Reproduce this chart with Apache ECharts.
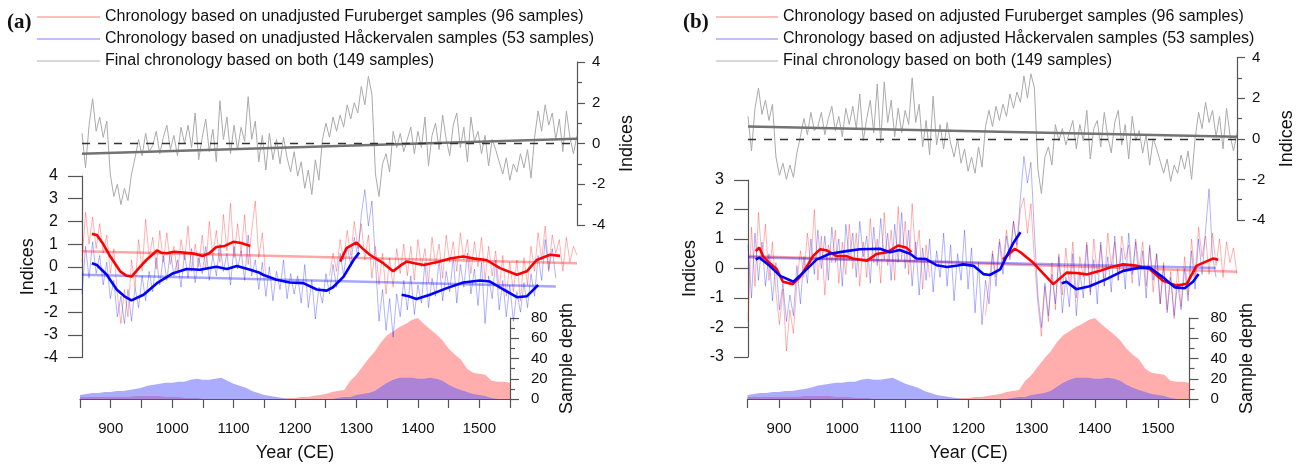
<!DOCTYPE html>
<html><head><meta charset="utf-8">
<script src="https://cdn.jsdelivr.net/npm/echarts@6.0.0/dist/echarts.min.js"></script>
<style>html,body{margin:0;padding:0;background:#fff}#c{width:1316px;height:473px}</style>
</head><body><div id="c"></div><script>
// ---------- DATA ----------
const NAME_RA = 'Chronology based on unadjusted Furuberget samples (96 samples)';
const NAME_BA = 'Chronology based on unadjusted H\u00e5ckervalen samples (53 samples)';
const NAME_RB = 'Chronology based on adjusted Furuberget samples (96 samples)';
const NAME_BB = 'Chronology based on adjusted H\u00e5ckervalen samples (53 samples)';
const NAME_G = 'Final chronology based on both (149 samples)';

const yearStart = 850, yearEnd = 1550, yearStep = 5, depthStep = 10;
const xTickLabels = [900, 1000, 1100, 1200, 1300, 1400, 1500];

// final chronology, panel a (850..1550 every 5 yr)
const grayA = [
 0.5,-1.2,0.9,2.2,0.6,1.3,0.3,1.1,-1.5,-2.6,
 -2.0,-3.0,-2.2,-2.8,-1.5,-0.7,0.2,-0.6,0.5,-0.4,
 -0.1,0.6,-0.5,0.3,0.9,-0.3,0.4,-0.6,0.8,0.0,
 0.9,-0.2,1.5,-0.8,0.3,1.2,-0.4,0.7,-0.9,2.1,
 0.2,1.3,-0.5,0.9,-0.3,0.8,0.1,2.3,0.2,1.1,
 -0.9,0.4,-1.3,0.5,-0.8,0.2,-1.0,0.3,-0.7,-1.4,
 -0.4,-1.6,-0.9,-2.2,-1.3,-2.5,-0.8,-1.8,0.2,1.0,
 0.3,1.3,0.6,1.4,0.8,1.9,1.2,2.0,1.5,2.8,
 1.9,3.3,2.4,-1.5,-2.6,-1.0,-0.5,-1.4,0.6,-0.2,
 0.5,-0.4,0.2,0.8,-0.5,0.6,-0.2,1.3,-1.1,0.4,
 1.0,-0.3,1.4,0.2,-0.6,0.9,1.5,-0.2,0.8,-0.9,
 1.3,0.1,0.6,-0.5,0.4,-1.1,0.2,-0.3,-0.9,-1.5,
 -0.7,-1.8,-1.0,-1.4,-0.5,-1.2,-0.3,-1.7,0.3,1.6,
 0.6,1.9,0.9,1.5,0.2,1.2,-0.4,1.6,0.3,-0.5,
 0.4];
// final chronology, panel b
const grayB = [
 1.1,-0.6,1.5,2.5,1.2,1.9,0.9,1.7,-0.9,-1.8,
 -1.2,-2.0,-1.3,-1.9,-0.7,0.1,1.0,0.2,1.3,0.4,
 0.6,1.3,0.2,1.0,1.6,0.4,1.1,0.1,1.5,0.7,
 1.6,0.5,2.2,-0.1,1.0,1.9,0.3,2.7,-0.2,2.8,
 0.8,1.9,0.1,1.5,0.3,1.4,0.7,3.0,0.8,1.7,
 -0.4,0.9,-0.8,2.1,-0.3,0.7,-0.5,0.8,-0.2,-0.9,
 0.0,-1.2,-0.5,-1.6,-0.9,-1.7,-0.4,-1.4,0.6,1.4,
 0.6,1.6,0.9,1.7,1.1,2.2,1.5,2.3,1.8,3.1,
 2.0,3.2,2.5,-1.5,-2.7,-0.9,-0.4,-1.3,0.7,-0.1,
 0.5,-0.3,0.3,0.9,-0.5,0.7,-0.1,1.4,-1.0,0.5,
 0.9,-0.4,1.3,0.1,-0.7,0.8,1.4,-0.3,0.7,-1.0,
 1.1,-0.1,0.4,-0.7,0.2,-1.3,0.0,-0.5,-1.1,-1.7,
 -1.0,-2.1,-1.3,-1.7,-0.8,-1.5,-0.6,-2.0,0.0,1.3,
 0.5,1.8,0.8,1.4,0.1,1.1,-0.5,1.5,0.2,-0.6,
 0.3];
const redA = [
 0.2,2.4,1.0,2.2,0.8,1.9,0.6,1.4,-0.3,0.8,
 -1.2,-2.5,-1.0,-2.2,0.3,-0.9,1.2,-0.2,2.1,0.4,
 1.3,-0.1,1.6,0.2,1.5,0.1,0.9,-0.3,1.2,0.3,
 1.8,-0.2,1.0,0.0,1.4,-0.1,2.0,0.5,1.6,0.2,
 2.3,0.7,2.8,0.4,1.9,0.6,2.3,0.1,1.6,2.9,
 0.4,1.5,-0.5,null,null,null,null,null,null,null,
 null,null,null,null,null,null,null,null,null,null,
 -0.4,0.6,-0.2,1.2,0.3,1.6,0.5,2.0,0.8,1.9,
 0.3,1.4,-0.5,0.9,-0.8,0.6,-1.2,0.4,-0.9,0.8,
 -0.3,1.0,-0.4,0.9,-0.6,1.2,0.0,0.8,-0.7,1.3,
 0.1,1.0,-0.5,1.4,0.2,1.1,-0.2,1.5,0.3,1.2,
 -0.3,1.1,0.0,1.3,-0.6,0.9,-0.4,0.7,-1.0,0.5,
 -1.3,0.2,-1.1,0.3,-1.5,0.4,-0.8,0.9,-0.2,1.5,
 0.3,1.8,-0.1,1.4,0.6,1.2,-0.2,1.3,0.2,0.9,
 0.5];
const blueA = [
 -1.2,0.9,-0.5,1.1,-0.3,0.5,-0.8,0.2,-1.4,-0.6,
 -2.2,-1.3,-2.5,-1.0,-2.4,-0.9,-1.8,-0.4,-1.5,-0.2,
 -1.1,0.4,-0.8,0.5,-0.6,0.7,-0.4,0.3,-0.9,0.6,
 -0.5,0.8,-0.7,0.4,-0.3,0.9,-0.6,0.5,-0.4,1.0,
 -0.2,0.6,-0.8,0.9,-0.1,0.7,-0.6,1.4,-0.4,0.3,
 -1.0,0.2,-1.3,0.0,-1.5,-0.2,-1.0,0.3,-1.4,-0.3,
 -1.2,-0.4,-1.6,0.1,-1.8,-0.6,-2.3,-0.9,-1.6,-0.3,
 -1.2,0.1,-0.9,0.6,-0.4,0.9,0.1,1.3,0.4,2.3,
 3.4,1.8,2.9,0.2,-2.4,-1.0,-2.8,-1.4,-3.1,-1.2,
 -2.2,-0.6,-1.9,-0.4,-2.1,-0.8,-1.6,0.2,-1.8,-0.5,
 -1.3,0.3,-1.5,-0.2,-1.1,0.4,-1.6,0.1,-0.9,0.6,
 -1.2,-0.1,-1.7,0.2,-2.5,-0.4,-1.4,0.3,-1.9,-0.6,
 -2.2,-0.8,-2.4,-1.1,-2.0,-0.7,-1.8,-0.3,-1.3,0.5,
 -0.6,1.2,-0.2,0.8,-0.5,null,null,null,null,null,
 null];
const redB = [
 -1.8,1.4,-0.6,1.9,0.3,1.5,-0.4,0.9,-0.8,-1.9,
 -0.7,-2.8,-1.4,-2.2,-0.5,0.6,-0.3,1.2,0.1,2.0,
 -0.4,1.1,-0.9,0.8,0.2,1.3,-0.5,0.9,-0.2,1.5,
 0.0,1.2,-0.6,0.9,-0.3,1.7,0.2,1.0,-0.5,1.9,
 0.1,1.3,-0.4,2.1,0.3,1.6,-0.2,2.2,0.4,1.3,
 -0.7,0.8,-0.3,null,null,null,null,null,null,null,
 null,null,null,null,null,null,null,null,-1.6,-0.5,
 0.6,-0.3,1.0,0.2,1.3,0.4,1.6,0.7,2.0,2.4,
 1.2,2.2,0.3,-1.2,-2.3,-0.6,-1.8,0.2,-1.4,0.5,
 -0.9,0.7,-0.6,0.9,-1.0,0.4,-0.3,0.9,-0.8,1.0,
 -0.2,0.8,-0.6,1.2,0.1,0.9,-0.4,1.1,0.3,0.8,
 -0.5,1.0,0.0,0.9,-0.6,0.7,-0.8,0.5,-1.2,0.2,
 -1.4,-0.1,-1.7,0.0,-1.3,0.4,-0.9,1.0,-0.3,1.4,
 0.4,1.1,-0.2,1.2,0.1,1.0,-0.3,0.9,0.2,0.7,
 -0.2];
const blueB = [
 0.8,-1.0,1.2,-0.4,0.9,-0.6,0.5,-1.1,0.2,-1.4,
 -0.5,-1.8,-0.9,-1.6,0.1,-1.2,0.4,-0.5,1.0,-0.2,
 1.3,0.0,1.1,-0.4,1.4,0.2,1.0,-0.6,1.5,0.3,
 1.2,-0.3,1.6,0.4,1.1,-0.5,1.4,0.1,1.7,0.3,
 1.2,-0.4,1.5,0.2,1.9,0.0,1.3,-0.6,0.9,-0.9,
 0.7,-0.4,1.0,-0.8,0.6,-0.3,1.2,-0.6,0.8,-1.1,
 0.5,-0.4,1.3,-0.7,0.7,-1.5,0.2,-1.9,-0.4,-1.2,
 0.5,-0.6,0.9,-0.2,1.1,0.3,1.6,0.8,2.4,3.8,
 2.9,3.6,1.2,-0.9,-2.0,-0.5,-1.6,-0.2,-1.2,0.4,
 -1.5,-0.3,-1.3,0.5,-1.6,-0.1,-1.0,0.8,-0.9,0.3,
 -1.2,0.9,-0.6,0.4,-0.8,1.1,-0.4,0.7,-0.7,1.2,
 -0.2,0.9,-0.6,0.6,-1.0,0.8,-0.4,0.5,-1.2,0.1,
 -1.5,-0.3,-1.6,-0.5,-1.4,0.0,-1.1,0.6,-0.7,1.0,
 -0.2,1.3,2.7,0.4,-0.3,null,null,null,null,null,
 null];

// smoothed (31-yr) curves, [year, index]
const redSmoothA1 = [[864,1.45],[871,1.4],[880,1.0],[890,0.45],[904,-0.2],[912,-0.38],[920,-0.43],[932,0.0],[941,0.3],[956,0.72],[962,0.62],[970,0.6],[980,0.66],[993,0.63],[1008,0.58],[1021,0.48],[1030,0.6],[1040,0.87],[1052,0.92],[1064,1.1],[1075,1.05],[1088,0.92]];
const redSmoothA2 = [[1215,0.23],[1224,0.82],[1238,1.07],[1247,0.8],[1257,0.53],[1276,0.16],[1290,-0.2],[1300,0.05],[1309,0.23],[1320,0.16],[1333,0.08],[1356,0.23],[1372,0.38],[1389,0.45],[1405,0.36],[1422,0.3],[1441,-0.06],[1465,-0.35],[1479,-0.2],[1493,0.3],[1512,0.53],[1526,0.48]];
const blueSmoothA1 = [[864,0.16],[871,0.08],[885,-0.35],[899,-1.0],[910,-1.3],[920,-1.48],[937,-1.23],[956,-0.72],[979,-0.28],[998,-0.1],[1017,-0.13],[1030,-0.05],[1040,0.0],[1055,-0.1],[1069,0.04],[1088,-0.13],[1100,-0.25],[1106,-0.35],[1125,-0.57],[1144,-0.69],[1163,-0.72],[1182,-1.0],[1196,-1.05],[1205,-0.9],[1220,-0.43],[1234,0.3],[1242,0.63]];
const blueSmoothA2 = [[1302,-1.23],[1312,-1.3],[1323,-1.42],[1342,-1.23],[1366,-0.94],[1389,-0.69],[1413,-0.6],[1427,-0.65],[1446,-1.0],[1465,-1.34],[1479,-1.3],[1495,-0.8]];
const redSmoothB1 = [[861,0.59],[866,0.71],[872,0.4],[880,0.2],[891,-0.02],[900,-0.45],[914,-0.53],[924,-0.3],[936,0.14],[943,0.42],[953,0.65],[962,0.62],[977,0.42],[991,0.42],[1000,0.34],[1020,0.26],[1034,0.49],[1049,0.55],[1065,0.78],[1077,0.7],[1084,0.55]];
const redSmoothB2 = [[1215,0.31],[1232,0.67],[1240,0.55],[1258,0.2],[1287,-0.53],[1306,-0.14],[1320,-0.15],[1335,-0.2],[1354,-0.08],[1370,0.05],[1387,0.14],[1405,0.1],[1425,-0.02],[1444,-0.42],[1464,-0.58],[1478,-0.52],[1492,0.09],[1507,0.25],[1516,0.34],[1523,0.3]];
const blueSmoothB1 = [[861,0.3],[866,0.37],[881,0.09],[896,-0.25],[915,-0.45],[929,-0.14],[948,0.3],[967,0.5],[991,0.59],[1010,0.65],[1039,0.67],[1053,0.55],[1067,0.63],[1082,0.5],[1091,0.34],[1105,0.32],[1120,0.11],[1135,0.05],[1150,0.1],[1158,0.14],[1173,0.09],[1187,-0.19],[1196,-0.22],[1211,-0.03],[1218,0.31],[1230,0.87],[1240,1.23]];
const blueSmoothB2 = [[1299,-0.5],[1306,-0.45],[1320,-0.7],[1339,-0.6],[1363,-0.36],[1387,-0.08],[1411,0.03],[1425,0.03],[1444,-0.3],[1461,-0.64],[1475,-0.67],[1487,-0.45],[1495,-0.19]];

// linear trends
const grayTrendA = [[850,-0.5],[1550,0.23]];
const grayTrendB = [[850,0.6],[1550,0.1]];
const redTrendA = [[850,0.68],[1550,0.16]];
const blueTrendA = [[850,-0.35],[1520,-0.87]];
const redTrendB = [[850,0.42],[1550,-0.11]];
const blueTrendB = [[850,0.38],[1520,0.02]];

// sample depth (850..1550 every 10 yr)
const redDepth = [
 2,2,2,2,2,2,2,2,2,3,
 3,3,3,3,2,2,2,1,1,1,
 0,0,0,0,0,0,0,0,0,0,
 0,0,0,0,1,1,2,2,3,4,
 5,7,8,9,18,24,32,40,47,56,
 63,67,71,74,78,80,74,69,64,58,
 50,44,39,30,26,25,24,18,17,17,
 16];
const blueDepth = [
 4,5,6,6,7,7,8,8,9,10,
 11,13,14,15,16,16,17,17,19,20,
 19,19,20,21,18,15,13,11,8,6,
 4,3,2,1,0,0,0,0,0,0,
 0,0,1,2,2,4,5,6,8,12,
 16,19,21,21,21,20,20,21,20,18,
 14,11,9,7,5,4,3,1,0,0,
 0];

// ---------- BUILD ----------
const FONT = 'Liberation Sans, Arial, sans-serif';
function annual(vals, step){ return vals.map((v,i)=>[yearStart+i*step, v===null?'-':v]); }

const AX = {color:'#555', width:1.2};
function hiddenX(g){ return {type:'value', gridIndex:g, min:yearStart, max:yearEnd, show:false}; }
function shownX(g){
  return {type:'value', gridIndex:g, min:yearStart, max:yearEnd, interval:50,
    axisLine:{show:true, lineStyle:AX}, axisTick:{show:true, length:9, lineStyle:AX},
    axisLabel:{fontSize:15, color:'#111', margin:22, fontFamily:FONT,
      formatter:v=> xTickLabels.indexOf(v)>=0 ? String(v) : ''},
    splitLine:{show:false},
    name:'Year (CE)', nameLocation:'middle', nameGap:45,
    nameTextStyle:{fontSize:18, color:'#111', fontFamily:FONT}};
}
function yAx(g, pos, min, max, interval, name, gap, minor, tickLen, labelSize, margin){
  return {type:'value', gridIndex:g, position:pos, min:min, max:max, interval:interval,
    axisLine:{show:true, lineStyle:AX}, axisTick:{show:true, length:tickLen, lineStyle:AX},
    minorTick:{show:minor, splitNumber:2, length:5, lineStyle:AX},
    axisLabel:{fontSize:labelSize, color:'#111', margin:margin, fontFamily:FONT},
    splitLine:{show:false},
    name:name, nameLocation:'middle', nameRotate:90, nameGap:gap,
    nameTextStyle:{fontSize:18, color:'#111', fontFamily:FONT}};
}
function line(name, xi, data, color, width, extra){
  return Object.assign({type:'line', name:name, xAxisIndex:xi, yAxisIndex:xi, data:data,
    symbol:'none', showSymbol:false, silent:true, connectNulls:false,
    lineStyle:{color:color, width:width}, itemStyle:{color:color}}, extra||{});
}
function area(name, xi, data, color){
  return {type:'line', name:name, xAxisIndex:xi, yAxisIndex:xi, data:data, symbol:'none', silent:true,
    lineStyle:{width:0}, areaStyle:{color:color, opacity:1}, itemStyle:{color:color}};
}
const dashZero = {silent:true, symbol:'none', label:{show:false},
  lineStyle:{type:[8,8], color:'#333', width:1.4}, data:[{yAxis:0}]};

const RN = 'rgba(255,0,0,0.3)', BN = 'rgba(0,0,255,0.3)';
const RT = 'rgba(255,0,0,0.35)', BT = 'rgba(0,0,255,0.35)';
const RD = 'rgba(255,60,60,0.42)', BD = 'rgba(90,90,255,0.5)';

const legendCommon = {top:8, orient:'vertical', padding:0, itemHeight:1.5, itemGap:4, icon:'rect', selectedMode:false,
  textStyle:{fontSize:16, lineHeight:18, color:'#111', fontFamily:FONT}};

const option = {
  animation:false,
  textStyle:{fontFamily:FONT},
  title:[
    {text:'(a)', left:7, top:12, padding:0, textStyle:{fontFamily:'Liberation Serif, Times New Roman, serif', fontWeight:'bold', fontSize:21, color:'#111'}},
    {text:'(b)', left:683, top:12, padding:0, textStyle:{fontFamily:'Liberation Serif, Times New Roman, serif', fontWeight:'bold', fontSize:21, color:'#111'}}
  ],
  legend:[
    Object.assign({left:37, itemWidth:63,
     data:[{name:NAME_RA, itemStyle:{color:'#ffaaaa'}},{name:NAME_BA, itemStyle:{color:'#aaaaff'}},{name:NAME_G, itemStyle:{color:'#cccccc'}}]}, legendCommon),
    Object.assign({left:716, itemWidth:62,
     data:[{name:NAME_RB, itemStyle:{color:'#ffaaaa'}},{name:NAME_BB, itemStyle:{color:'#aaaaff'}},{name:NAME_G, itemStyle:{color:'#cccccc'}}]}, legendCommon)
  ],
  grid:[
    {left:82, top:62, width:495, height:163},
    {left:82, top:176, width:495, height:181.6},
    {left:80, top:318, width:430, height:81},
    {left:748, top:57.5, width:489, height:162.5},
    {left:748, top:180, width:489, height:177},
    {left:747.5, top:318, width:442, height:81}
  ],
  xAxis:[hiddenX(0), hiddenX(1), shownX(2), hiddenX(3), hiddenX(4), shownX(5)],
  yAxis:[
    yAx(0,'right',-4,4,2,'Indices',41,true,8,15,15),
    yAx(1,'left',-4,4,1,'Indices',45,false,14,16,24),
    yAx(2,'right',0,80,20,'Sample depth',48,true,9,15,21),
    yAx(3,'right',-4,4,2,'Indices',41,true,8,15,15),
    yAx(4,'left',-3,3,1,'Indices',49,false,14,16,24),
    yAx(5,'right',0,80,20,'Sample depth',49,true,9,15,21)
  ],
  series:[
    // panel a
    line(NAME_G, 0, annual(grayA, yearStep), '#aaaaaa', 1, {markLine:dashZero}),
    line('trendGA', 0, grayTrendA, '#737373', 2.5),
    line(NAME_RA, 1, annual(redA, yearStep), RN, 1),
    line(NAME_BA, 1, annual(blueA, yearStep), BN, 1),
    line('trendRA', 1, redTrendA, RT, 2.5),
    line('trendBA', 1, blueTrendA, BT, 2.5),
    line('smRA1', 1, redSmoothA1, '#ff0000', 2.6),
    line('smRA2', 1, redSmoothA2, '#ff0000', 2.6),
    line('smBA1', 1, blueSmoothA1, '#0000ff', 2.6),
    line('smBA2', 1, blueSmoothA2, '#0000ff', 2.6),
    area('depthRA', 2, annual(redDepth, depthStep), RD),
    area('depthBA', 2, annual(blueDepth, depthStep), BD),
    // panel b
    line(NAME_G, 3, annual(grayB, yearStep), '#aaaaaa', 1, {markLine:dashZero}),
    line('trendGB', 3, grayTrendB, '#737373', 2.5),
    line(NAME_RB, 4, annual(redB, yearStep), RN, 1, {clip:false}),
    line(NAME_BB, 4, annual(blueB, yearStep), BN, 1, {clip:false}),
    line('trendRB', 4, redTrendB, RT, 2.5),
    line('trendBB', 4, blueTrendB, BT, 2.5),
    line('smRB1', 4, redSmoothB1, '#ff0000', 2.6),
    line('smRB2', 4, redSmoothB2, '#ff0000', 2.6),
    line('smBB1', 4, blueSmoothB1, '#0000ff', 2.6),
    line('smBB2', 4, blueSmoothB2, '#0000ff', 2.6),
    area('depthRB', 5, annual(redDepth, depthStep), RD),
    area('depthBB', 5, annual(blueDepth, depthStep), BD)
  ]
};
const chart = echarts.init(document.getElementById('c'), null, {renderer:'canvas'});
chart.setOption(option);
</script></body></html>
